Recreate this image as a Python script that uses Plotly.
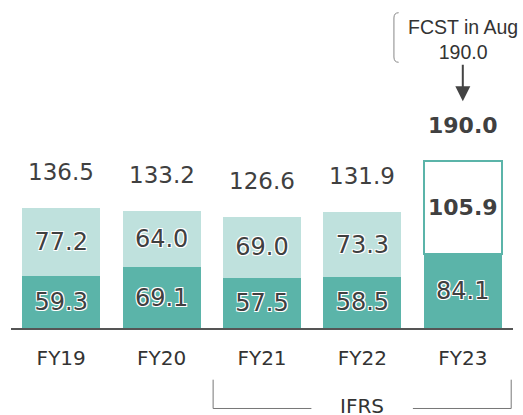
import plotly.graph_objects as go

categories = ["FY19", "FY20", "FY21", "FY22", "FY23"]
bottom_vals = [59.3, 69.1, 57.5, 58.5, 84.1]
top_vals = [77.2, 64.0, 69.0, 73.3, 105.9]
totals = [136.5, 133.2, 126.6, 131.9, 190.0]
forecast_label = "FCST in Aug<br>190.0"
forecast_value = 190.0
ifrs_label = "IFRS"

DARK = "#5bb4a9"
LIGHT = "#bfe1dd"
TXT = "#404040"
FONT = "DejaVu Sans"
HALO = "1px 1px 0 #fff, -1px -1px 0 #fff, 1px -1px 0 #fff, -1px 1px 0 #fff"

x = list(range(len(categories)))
n = len(categories)

fig = go.Figure()
fig.add_trace(go.Bar(
    x=x, y=bottom_vals, width=0.776,
    marker=dict(color=DARK, line=dict(width=0)),
    text=[f"{v:.1f}" for v in bottom_vals],
    textposition="inside", insidetextanchor="middle", constraintext="none",
    textfont=dict(family=FONT, size=24, color=TXT, shadow=HALO),
    hoverinfo="skip",
))
top_text = [f"{v:.1f}" for v in top_vals[:-1]] + [f"<b>{top_vals[-1]:.1f}</b>"]
fig.add_trace(go.Bar(
    x=x, y=top_vals, width=0.776,
    marker=dict(color=[LIGHT] * (n - 1) + ["white"],
                line=dict(color=["rgba(0,0,0,0)"] * (n - 1) + [DARK],
                          width=[0] * (n - 1) + [2])),
    text=top_text,
    textposition="inside", insidetextanchor="middle", constraintext="none",
    textfont=dict(family=FONT, size=[24] * (n - 1) + [22], color=TXT, shadow=HALO),
    hoverinfo="skip",
))

annotations = []
for i, t in enumerate(totals):
    last = i == n - 1
    annotations.append(dict(
        x=i, y=t, xref="x", yref="y", yanchor="middle", yshift=36,
        text=(f"<b>{t:.1f}</b>" if last else f"{t:.1f}"), showarrow=False,
        font=dict(family=FONT, size=22 if last else 23, color=TXT),
    ))

# forecast note
annotations.append(dict(
    x=4, y=328.4, xref="x", yref="y", yanchor="middle",
    text=forecast_label, showarrow=False,
    font=dict(family="Liberation Sans", size=19.5, color="#333"),
))
annotations.append(dict(
    x=4, y=forecast_value, xref="x", yref="y", yshift=60,
    ax=0, ay=-38, axref="pixel", ayref="pixel",
    text="", showarrow=True, arrowhead=2, arrowsize=1.5, arrowwidth=2,
    arrowcolor="#444",
))
annotations.append(dict(
    x=(2.492 + 3.503) / 2, y=-0.2378, xref="x", yref="paper", yanchor="middle",
    text=ifrs_label, showarrow=False,
    font=dict(family=FONT, size=20, color="#333"),
))

shapes = [
    dict(type="path", xref="x", yref="y",
         path="M 3.361 359.5 Q 3.314 359.5 3.314 353.5 L 3.314 309 Q 3.314 303 3.361 303",
         line=dict(color="#888", width=1)),
    dict(type="path", xref="x", yref="paper",
         path="M 1.513 -0.1576 L 1.513 -0.2454 L 2.492 -0.2454",
         line=dict(color="#777", width=1)),
    dict(type="path", xref="x", yref="paper",
         path="M 3.503 -0.2454 L 4.482 -0.2454 L 4.482 -0.1576",
         line=dict(color="#777", width=1)),
]

fig.update_layout(
    width=523, height=415,
    margin=dict(l=11, r=9.5, t=0, b=87),
    barmode="stack", bargap=0.224,
    showlegend=False,
    plot_bgcolor="white", paper_bgcolor="white",
    font=dict(family=FONT, color=TXT),
    annotations=annotations, shapes=shapes,
    xaxis=dict(range=[-0.5, 4.5], tickvals=x, ticktext=categories,
               showline=True, linecolor="#555", linewidth=2, showgrid=False,
               zeroline=False, ticks="", ticklabelstandoff=11,
               tickfont=dict(family=FONT, size=20, color="#333"), fixedrange=True),
    yaxis=dict(range=[0, 374], visible=False, showgrid=False, fixedrange=True),
)

fig.write_html("out.html", config={"displayModeBar": False},
               post_script="document.body.style.margin='0';document.body.style.overflow='hidden';")
